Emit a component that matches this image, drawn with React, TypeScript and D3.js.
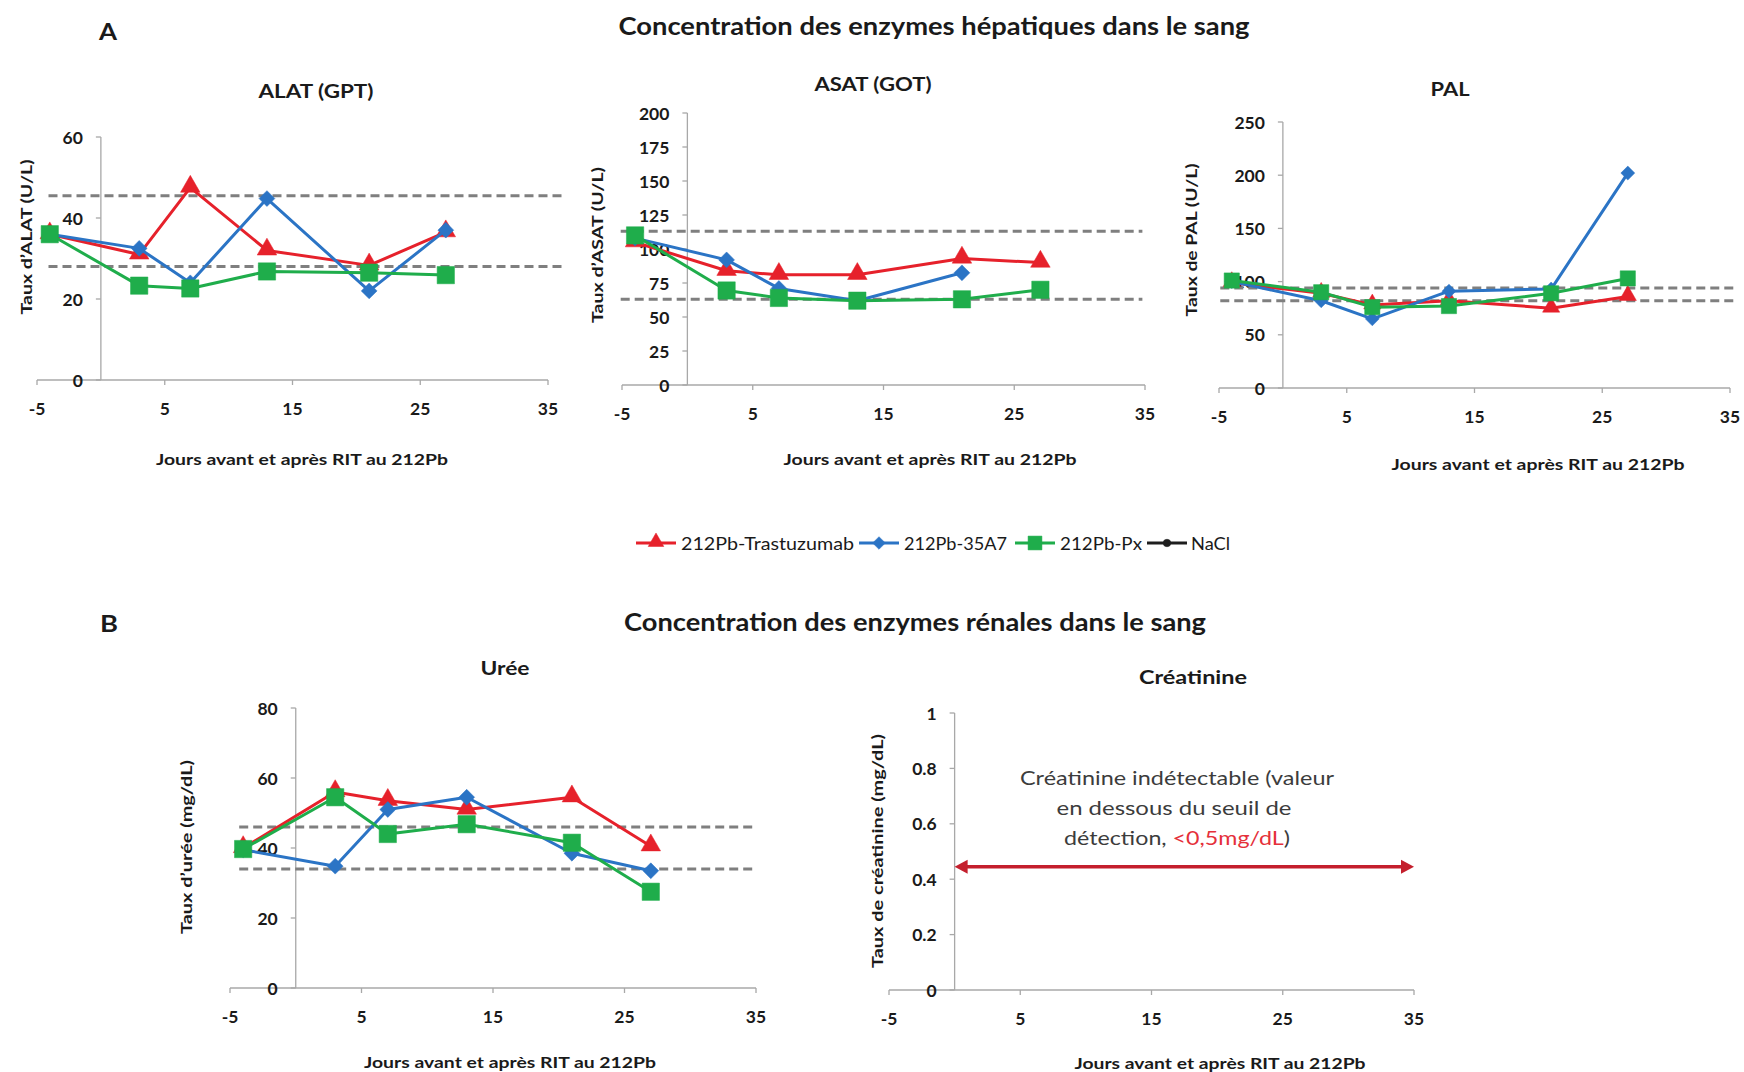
import React from 'react';
import * as d3 from 'd3';

// ---------- DATA ----------
const DAYS = [-4, 3, 7, 13, 21, 27];
const X_DOMAIN: [number, number] = [-5, 35];
const X_TICKS = [-5, 5, 15, 25, 35];

const SERIES_NAMES = ['212Pb-Trastuzumab', '212Pb-35A7', '212Pb-Px', 'NaCl'];
const SERIES_COLORS = ['#e6212b', '#2b74c5', '#1fad4b', '#1e1e1e'];

// ALAT (GPT), U/L
const ALAT_TRASTUZUMAB = [36, 31, 47.5, 32, 28.3, 36.5];
const ALAT_35A7 = [36, 32.5, 24, 44.8, 22, 37];
const ALAT_PX = [36, 23.3, 22.6, 26.8, 26.5, 25.9];
const ALAT_TICKS = [0, 20, 40, 60];
const ALAT_NORMAL = [28, 45.5];

// ASAT (GOT), U/L
const ASAT_TRASTUZUMAB = [105, 84, 81, 81, 93, 90];
const ASAT_35A7 = [108, 92, 71, 62, 82.5, null];
const ASAT_PX = [110, 69.5, 64, 62, 63, 70];
const ASAT_TICKS = [0, 25, 50, 75, 100, 125, 150, 175, 200];
const ASAT_NORMAL = [63, 113];

// PAL, U/L
const PAL_TRASTUZUMAB = [99, 89, 78, 82, 75, 86];
const PAL_35A7 = [100, 82, 65, 91, 93, 202];
const PAL_PX = [101, 90, 76, 77, 89, 103];
const PAL_TICKS = [0, 50, 100, 150, 200, 250];
const PAL_NORMAL = [82, 94];

// Urée, mg/dL
const UREE_TRASTUZUMAB = [40, 56, 53.5, 51, 54.5, 40.5];
const UREE_35A7 = [39.5, 34.8, 51, 54.5, 38.5, 33.5];
const UREE_PX = [39.7, 54.5, 44, 46.8, 41.5, 27.5];
const UREE_TICKS = [0, 20, 40, 60, 80];
const UREE_NORMAL = [34, 46];

// Créatinine, mg/dL
const CREA_TICKS = [0, 0.2, 0.4, 0.6, 0.8, 1];
const CREA_TICK_LABELS = ['0', '0.2', '0.4', '0.6', '0.8', '1'];
const CREA_ARROW_LEVEL = 0.445;
const CREA_ARROW_DAYS = [0, 35];

// ---------- STYLE ----------
const FONT = "Lato, 'Open Sans', 'Noto Sans', sans-serif";
const AXIS_COLOR = '#a8a8a8';
const TEXT_COLOR = '#1a1a1a';
const DASH_COLOR = '#7f7f7f';

type Cfg = {
  title: string;
  ylabel: string;
  xPx: [number, number];
  yPx: [number, number];
  yDomain: [number, number];
  yTicks: number[];
  yTickLabels?: string[];
  titlePos: [number, number, number];
  ylabelPos: [number, number, number];
  xtitlePos: [number, number, number];
  normal?: number[];
  normalDays?: [number, number];
  series?: (number | null)[][];
  markerScale?: number;
};

const XTITLE = 'Jours avant et après RIT au 212Pb';

const PANELS: Cfg[] = [
  {
    title: 'ALAT (GPT)', ylabel: 'Taux d’ALAT (U/L)',
    xPx: [37, 548], yPx: [380, 137], yDomain: [0, 60], yTicks: ALAT_TICKS,
    titlePos: [316, 90, 115], ylabelPos: [25, 237, 155], xtitlePos: [302, 458, 292],
    normal: ALAT_NORMAL, normalDays: [-4.1, 36.3],
    series: [ALAT_TRASTUZUMAB, ALAT_35A7, ALAT_PX], markerScale: 1,
  },
  {
    title: 'ASAT (GOT)', ylabel: 'Taux d’ASAT (U/L)',
    xPx: [622, 1145], yPx: [385, 113], yDomain: [0, 200], yTicks: ASAT_TICKS,
    titlePos: [873, 83, 117], ylabelPos: [596, 245, 156], xtitlePos: [930, 458, 293],
    normal: ASAT_NORMAL, normalDays: [-5.1, 34.8],
    series: [ASAT_TRASTUZUMAB, ASAT_35A7, ASAT_PX], markerScale: 1,
  },
  {
    title: 'PAL', ylabel: 'Taux de PAL (U/L)',
    xPx: [1219, 1730], yPx: [388, 122], yDomain: [0, 250], yTicks: PAL_TICKS,
    titlePos: [1450, 88, 39], ylabelPos: [1190, 240, 153], xtitlePos: [1538, 463, 293],
    normal: PAL_NORMAL, normalDays: [-4.9, 35.3],
    series: [PAL_TRASTUZUMAB, PAL_35A7, PAL_PX], markerScale: 0.88,
  },
  {
    title: 'Urée', ylabel: 'Taux d’urée (mg/dL)',
    xPx: [230, 756], yPx: [988, 708], yDomain: [0, 80], yTicks: UREE_TICKS,
    titlePos: [505, 667, 49], ylabelPos: [185, 847, 174], xtitlePos: [510, 1061, 292],
    normal: UREE_NORMAL, normalDays: [-4.3, 35],
    series: [UREE_TRASTUZUMAB, UREE_35A7, UREE_PX], markerScale: 1,
  },
  {
    title: 'Créatinine', ylabel: 'Taux de créatinine (mg/dL)',
    xPx: [889, 1414], yPx: [990, 713], yDomain: [0, 1], yTicks: CREA_TICKS, yTickLabels: CREA_TICK_LABELS,
    titlePos: [1193, 676, 108], ylabelPos: [876, 851, 234], xtitlePos: [1220, 1062, 291],
  },
];

const SYMBOLS = [d3.symbolTriangle, d3.symbolSquare, d3.symbolSquare, d3.symbolCircle];
const SYMBOL_SIZES = [165, 125, 300, 70];
const SYMBOL_ROT = [0, 45, 0, 0];

function Marker({ i, x, y, scale = 1 }: { i: number; x: number; y: number; scale?: number }) {
  const p = d3.symbol().type(SYMBOLS[i]).size(SYMBOL_SIZES[i] * scale * scale)();
  const dy = i === 0 ? -1 : 0;
  return (
    <path d={p || ''} fill={SERIES_COLORS[i]} stroke={SERIES_COLORS[i]} strokeWidth={0.5}
      transform={`translate(${x},${y + dy}) rotate(${SYMBOL_ROT[i]})`} />
  );
}

function Txt({ x, y, w, size, weight = 700, children, rotate = false, fill = TEXT_COLOR, anchor = 'middle' }: any) {
  const tr = rotate ? `translate(${x},${y}) rotate(-90)` : undefined;
  return (
    <text x={rotate ? 0 : x} y={rotate ? 0 : y} transform={tr} textAnchor={anchor} dominantBaseline="central"
      fontFamily={FONT} fontSize={size} fontWeight={weight} fill={fill}
      textLength={w} lengthAdjust="spacingAndGlyphs">{children}</text>
  );
}

function Panel({ cfg }: { cfg: Cfg }) {
  const x = d3.scaleLinear().domain(X_DOMAIN).range(cfg.xPx);
  const y = d3.scaleLinear().domain(cfg.yDomain).range(cfg.yPx);
  const x0 = x(0);
  const yb = y(cfg.yDomain[0]);
  const yt = y(cfg.yDomain[1]);
  const line = d3.line<[number, number | null]>()
    .defined((d) => d[1] != null)
    .x((d) => x(d[0]))
    .y((d) => y(d[1] as number));
  const ms = cfg.markerScale ?? 1;
  return (
    <g>
      {/* axes */}
      <line x1={x(X_DOMAIN[0])} x2={x(X_DOMAIN[1])} y1={yb} y2={yb} stroke={AXIS_COLOR} strokeWidth={1.3} />
      <line x1={x0} x2={x0} y1={yb} y2={yt} stroke={AXIS_COLOR} strokeWidth={1.3} />
      {X_TICKS.map((t) => (
        <g key={'xt' + t}>
          <line x1={x(t)} x2={x(t)} y1={yb} y2={yb + 5} stroke={AXIS_COLOR} strokeWidth={1.3} />
          <text x={x(t)} y={yb + 28} textAnchor="middle" dominantBaseline="central" fontFamily={FONT}
            fontSize={17.5} fontWeight={700} fill={TEXT_COLOR}>{t}</text>
        </g>
      ))}
      {cfg.yTicks.map((t, i) => (
        <g key={'yt' + t}>
          <line x1={x0 - 5} x2={x0} y1={y(t)} y2={y(t)} stroke={AXIS_COLOR} strokeWidth={1.3} />
          <text x={x0 - 18} y={y(t)} textAnchor="end" dominantBaseline="central" fontFamily={FONT}
            fontSize={17.5} fontWeight={700} fill={TEXT_COLOR}>{cfg.yTickLabels ? cfg.yTickLabels[i] : t}</text>
        </g>
      ))}
      {/* normal range */}
      {cfg.normal && cfg.normalDays && cfg.normal.map((v) => (
        <line key={'n' + v} x1={x(cfg.normalDays![0])} x2={x(cfg.normalDays![1])} y1={y(v)} y2={y(v)}
          stroke={DASH_COLOR} strokeWidth={3} strokeDasharray="9,5" />
      ))}
      {/* series */}
      {cfg.series && cfg.series.map((s, i) => {
        const pts = DAYS.map((d, k) => [d, s[k]] as [number, number | null]);
        return (
          <g key={'s' + i}>
            <path d={line(pts) || ''} fill="none" stroke={SERIES_COLORS[i]} strokeWidth={3} strokeLinejoin="round" />
            {pts.filter((p) => p[1] != null).map((p, k) => (
              <Marker key={k} i={i} x={x(p[0])} y={y(p[1] as number)} scale={ms} />
            ))}
          </g>
        );
      })}
      {/* titles */}
      <Txt x={cfg.titlePos[0]} y={cfg.titlePos[1]} w={cfg.titlePos[2]} size={19}>{cfg.title}</Txt>
      <Txt x={cfg.ylabelPos[0]} y={cfg.ylabelPos[1]} w={cfg.ylabelPos[2]} size={16} rotate>{cfg.ylabel}</Txt>
      <Txt x={cfg.xtitlePos[0]} y={cfg.xtitlePos[1]} w={cfg.xtitlePos[2]} size={16}>{XTITLE}</Txt>
    </g>
  );
}

function CreaAnnotation() {
  const cfg = PANELS[4];
  const x = d3.scaleLinear().domain(X_DOMAIN).range(cfg.xPx);
  const y = d3.scaleLinear().domain(cfg.yDomain).range(cfg.yPx);
  const xa = x(CREA_ARROW_DAYS[0]);
  const xb = x(CREA_ARROW_DAYS[1]);
  const ya = y(CREA_ARROW_LEVEL);
  const col = '#c41f2d';
  const hl = 13, hw = 7;
  return (
    <g>
      <line x1={xa + hl - 1} x2={xb - hl + 1} y1={ya} y2={ya} stroke={col} strokeWidth={3.5} />
      <path d={`M${xa},${ya} L${xa + hl},${ya - hw} L${xa + hl},${ya + hw} Z`} fill={col} />
      <path d={`M${xb},${ya} L${xb - hl},${ya - hw} L${xb - hl},${ya + hw} Z`} fill={col} />
      <Txt x={1177} y={777} w={314} size={19} weight={400} fill="#3c3c3c">Créatinine indétectable (valeur</Txt>
      <Txt x={1174} y={807} w={235} size={19} weight={400} fill="#3c3c3c">en dessous du seuil de</Txt>
      <text x={1177} y={837} textAnchor="middle" dominantBaseline="central" fontFamily={FONT} fontSize={19}
        fill="#3c3c3c" textLength={226} lengthAdjust="spacingAndGlyphs">
        détection, <tspan fill="#e5303a">&lt;0,5mg/dL</tspan>)
      </text>
    </g>
  );
}

const LEGEND_POS = [
  { l: 636, t: 681, w: 173 },
  { l: 859, t: 904, w: 103 },
  { l: 1015, t: 1060, w: 82 },
  { l: 1147, t: 1191, w: 39 },
];

function Legend() {
  const yl = 543;
  return (
    <g>
      {SERIES_NAMES.map((n, i) => (
        <g key={n}>
          <line x1={LEGEND_POS[i].l} x2={LEGEND_POS[i].l + 40} y1={yl} y2={yl} stroke={SERIES_COLORS[i]} strokeWidth={3} />
          <Marker i={i} x={LEGEND_POS[i].l + 20} y={yl} scale={0.8} />
          <Txt x={LEGEND_POS[i].t} y={yl} w={LEGEND_POS[i].w} size={17} weight={400} anchor="start">{n}</Txt>
        </g>
      ))}
    </g>
  );
}

export default function App() {
  return (
    <svg width={1744} height={1072} viewBox="0 0 1744 1072"
      style={{ position: 'absolute', left: 0, top: 0, background: '#ffffff', display: 'block' }}>
      <rect x={0} y={0} width={1744} height={1072} fill="#ffffff" />
      <Txt x={108} y={31} w={18} size={22}>A</Txt>
      <Txt x={934} y={25} w={631} size={24}>Concentration des enzymes hépatiques dans le sang</Txt>
      <Txt x={109} y={623} w={18} size={22}>B</Txt>
      <Txt x={915} y={621} w={582} size={24}>Concentration des enzymes rénales dans le sang</Txt>
      {PANELS.map((p) => <Panel key={p.title} cfg={p} />)}
      <CreaAnnotation />
      <Legend />
    </svg>
  );
}
